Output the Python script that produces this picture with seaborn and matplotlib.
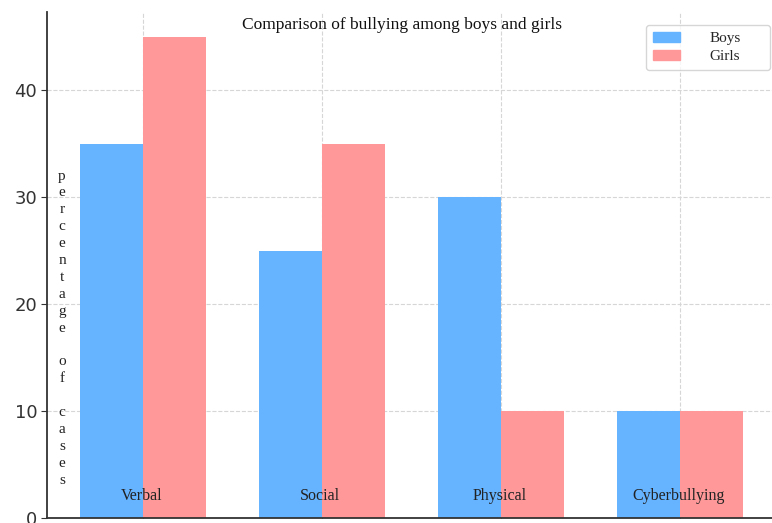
import pandas as pd
import seaborn as sns
import matplotlib.pyplot as plt

categories = ["Verbal", "Social", "Physical", "Cyberbullying"]
boys = [35, 25, 30, 10]
girls = [45, 35, 10, 10]
groups = ["Boys", "Girls"]
colors = ["#66b3ff", "#ff9999"]

dt = pd.DataFrame(
    {
        "type": categories * 2,
        "value": boys + girls,
        "group": ["Boys"] * len(categories) + ["Girls"] * len(categories),
    }
)

sns.set_style("whitegrid")
plt.rcParams["font.family"] = ["DejaVu Sans"]

fig = plt.figure(figsize=(7.72, 5.23), dpi=100)
ax = fig.add_axes([47 / 772, 5 / 523, 729 / 772, 506 / 523])

sns.barplot(
    data=dt, x="type", y="value", hue="group", hue_order=groups,
    palette=colors, width=0.7, gap=0, saturation=1, ax=ax, legend=False,
    linewidth=0,
)

ax.set_xlim(-0.536, 3.536)
ax.set_ylim(0, 47.3)
ax.set_yticks([0, 10, 20, 30, 40])
ax.set_xlabel("")
ax.set_ylabel("")
ax.set_xticks(range(len(categories)))
ax.set_xticklabels([""] * len(categories))
ax.grid(True, linestyle="--", color="#d6d6d6", linewidth=0.8)
ax.set_axisbelow(True)
ax.tick_params(axis="y", labelsize=13, labelcolor="#333333", length=4,
               color="#333333", left=True, pad=3)
ax.tick_params(axis="x", direction="in", length=4, color="#333333", bottom=True)
for s in ["top", "right"]:
    ax.spines[s].set_visible(False)
for s in ["left", "bottom"]:
    ax.spines[s].set_color("#333333")
    ax.spines[s].set_linewidth(1.3)

serif = ["Liberation Serif", "DejaVu Serif"]
for i, c in enumerate(categories):
    ax.text(i - 0.01, 2.1, c, ha="center", va="center", fontsize=11.5,
            family=serif, color="#222222")

ax.text(0.487, 0.975, "Comparison of bullying among boys and girls",
        transform=ax.transAxes, ha="center", va="center", fontsize=12.5,
        family=serif, color="#111111")

ax.text(-0.452, 17.75, "\n".join("percentage of cases"), ha="center",
        va="center", fontsize=11, family=serif, linespacing=1.39,
        color="#222222")

handles = [plt.Rectangle((0, 0), 1, 1, color=c) for c in colors]
leg = ax.legend(handles, groups, loc="upper right",
                bbox_to_anchor=(0.8217, 0.88, 0.1703, 0.094), mode="expand",
                prop={"family": serif, "size": 11}, frameon=True,
                handlelength=1.8, handleheight=0.6, handletextpad=1.9,
                borderpad=0.45, labelspacing=0.3, borderaxespad=0)
leg.get_frame().set_edgecolor("#cccccc")

plt.savefig("out.png", dpi=100)
